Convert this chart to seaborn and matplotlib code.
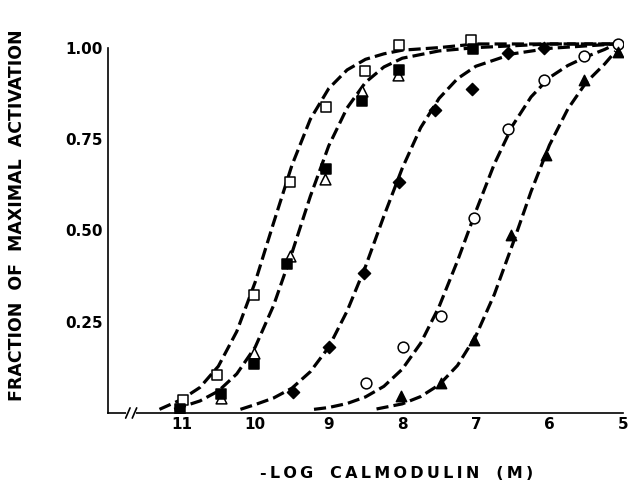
import matplotlib
matplotlib.use('Agg')
import matplotlib.pyplot as plt
import seaborn as sns
import pandas as pd

# measured points (-log[calmodulin], fraction of maximal activation)
sq_open_x = [10.98, 10.52, 10.01, 9.53, 9.04, 8.50, 8.05, 7.06]
sq_open_y = [0.036, 0.104, 0.324, 0.632, 0.838, 0.937, 1.008, 1.02]

sq_fill_x = [11.02, 10.46, 10.02, 9.57, 9.04, 8.55, 8.05, 7.04]
sq_fill_y = [0.01, 0.053, 0.135, 0.408, 0.667, 0.854, 0.938, 0.995]

tri_open_x = [10.46, 10.02, 9.52, 9.05, 8.55, 8.06]
tri_open_y = [0.04, 0.163, 0.43, 0.641, 0.882, 0.926]

dia_x = [9.48, 8.99, 8.52, 8.05, 7.55, 7.05, 6.56, 6.08]
dia_y = [0.058, 0.18, 0.383, 0.633, 0.83, 0.887, 0.986, 1.0]

circ_x = [8.49, 7.99, 7.48, 7.03, 6.56, 6.08, 5.53, 5.07]
circ_y = [0.083, 0.18, 0.266, 0.533, 0.777, 0.912, 0.978, 1.01]

tri_fill_x = [8.02, 7.47, 7.02, 6.52, 6.05, 5.53, 5.07]
tri_fill_y = [0.047, 0.083, 0.2, 0.486, 0.706, 0.912, 0.989]

# dashed fitted curves
c1_x = [11.3, 11.0, 10.75, 10.5, 10.25, 10.0, 9.75, 9.5, 9.25, 9.0, 8.75, 8.5, 8.25, 8.0, 7.5, 7.0, 6.0, 5.1]
c1_y = [0.01, 0.037, 0.07, 0.128, 0.223, 0.358, 0.52, 0.678, 0.804, 0.888, 0.939, 0.968, 0.983, 0.993, 1.0, 1.01, 1.01, 1.01]

c2_x = [11.1, 10.75, 10.5, 10.25, 10.0, 9.75, 9.5, 9.25, 9.0, 8.75, 8.5, 8.25, 8.0, 7.5, 7.0, 6.0, 5.1]
c2_y = [0.01, 0.033, 0.06, 0.107, 0.18, 0.294, 0.438, 0.593, 0.731, 0.835, 0.905, 0.947, 0.971, 0.991, 1.0, 1.01, 1.01]

c3_x = [10.2, 10.0, 9.75, 9.5, 9.25, 9.0, 8.75, 8.5, 8.25, 8.0, 7.75, 7.5, 7.25, 7.0, 6.5, 6.0, 5.1]
c3_y = [0.01, 0.023, 0.041, 0.068, 0.113, 0.18, 0.279, 0.401, 0.539, 0.67, 0.781, 0.861, 0.915, 0.949, 0.983, 0.998, 1.01]

c4_x = [9.2, 9.0, 8.75, 8.5, 8.25, 8.0, 7.75, 7.5, 7.25, 7.0, 6.75, 6.5, 6.25, 6.0, 5.75, 5.5, 5.25, 5.1]
c4_y = [0.01, 0.015, 0.026, 0.044, 0.073, 0.12, 0.191, 0.291, 0.416, 0.552, 0.681, 0.787, 0.865, 0.918, 0.951, 0.975, 0.995, 1.01]

c5_x = [8.35, 8.0, 7.75, 7.5, 7.25, 7.0, 6.75, 6.5, 6.25, 6.0, 5.75, 5.5, 5.25, 5.1]
c5_y = [0.011, 0.025, 0.045, 0.077, 0.13, 0.211, 0.324, 0.462, 0.606, 0.733, 0.832, 0.905, 0.955, 0.99]

x_ticks = [11, 10, 9, 8, 7, 6, 5]
y_ticks = [0.25, 0.50, 0.75, 1.00]
y_ticklabels = ['0.25', '0.50', '0.75', '1.00']

sns.set_style('white')
plt.rcParams['font.family'] = ['DejaVu Sans']
plt.rcParams['font.weight'] = 'bold'
plt.rcParams['text.color'] = 'black'
plt.rcParams['xtick.color'] = 'black'
plt.rcParams['ytick.color'] = 'black'
plt.rcParams['axes.labelcolor'] = 'black'

fig = plt.figure(figsize=(6.36, 4.82), dpi=100)
ax = fig.add_axes([108 / 636, 1 - 413 / 482, 515 / 636, 380 / 482])

dash = (0, (3.8, 1.6))
for cx, cy in [(c1_x, c1_y), (c2_x, c2_y), (c3_x, c3_y), (c4_x, c4_y), (c5_x, c5_y)]:
    curve = pd.DataFrame({'x': cx, 'y': cy})
    sns.lineplot(data=curve, x='x', y='y', ax=ax, color='black', linewidth=2.3,
                 linestyle=dash, sort=False, zorder=2)

# markers: (x, y, marker, face, size)
series = [
    (sq_open_x, sq_open_y, 's', 'white', 55),
    (tri_open_x, tri_open_y, '^', 'white', 60),
    (sq_fill_x, sq_fill_y, 's', 'black', 55),
    (dia_x, dia_y, 'D', 'black', 38),
    (circ_x, circ_y, 'o', 'white', 60),
    (tri_fill_x, tri_fill_y, '^', 'black', 55),
]
for sx, sy, mk, face, size in series:
    pts = pd.DataFrame({'x': sx, 'y': sy})
    sns.scatterplot(data=pts, x='x', y='y', ax=ax, marker=mk, s=size,
                    facecolor=face, edgecolor='black', linewidth=1.1, zorder=3)

ax.set_xlim(12, 5)
ax.set_ylim(0, 1.04)
ax.spines['top'].set_visible(False)
ax.spines['right'].set_visible(False)
ax.spines['left'].set_bounds(0, 1.0)
for s in ['left', 'bottom']:
    ax.spines[s].set_linewidth(1.2)
    ax.spines[s].set_color('black')

ax.set_xticks(x_ticks)
ax.set_xticklabels([str(t) for t in x_ticks])
ax.set_yticks(y_ticks)
ax.set_yticklabels(y_ticklabels)
ax.tick_params(axis='x', direction='in', length=6, width=1.2, pad=3, labelsize=11)
ax.tick_params(axis='y', direction='in', length=4, width=1.2, pad=4, labelsize=11)
for lab in ax.get_xticklabels() + ax.get_yticklabels():
    lab.set_fontweight('bold')
    lab.set_color('black')

ax.set_xlabel('')
ax.set_ylabel('')

# axis break on the x axis
brk_a, brk_b = 11.73, 11.64
ax.plot([brk_a, brk_b], [0, 0], color='white', linewidth=3, clip_on=False, zorder=5)
for bx in (brk_a, brk_b):
    ax.plot([bx + 0.03, bx - 0.03], [-0.014, 0.014], color='black', linewidth=1.2,
            clip_on=False, zorder=6)

sp = '\u2009'
fig.text(397 / 636, 1 - 473 / 482, '-' + sp + sp.join('LOG') + '   ' + sp.join('CALMODULIN') + '   ' + sp.join('(M)'),
         ha='center', va='center', fontsize=11.5, fontweight='bold', color='black')
fig.text(17 / 636, 1 - 215 / 482, 'FRACTION  OF  MAXIMAL  ACTIVATION',
         ha='center', va='center', rotation=90, fontsize=12.5, fontweight='bold', color='black')

fig.savefig('out.png', dpi=100)
